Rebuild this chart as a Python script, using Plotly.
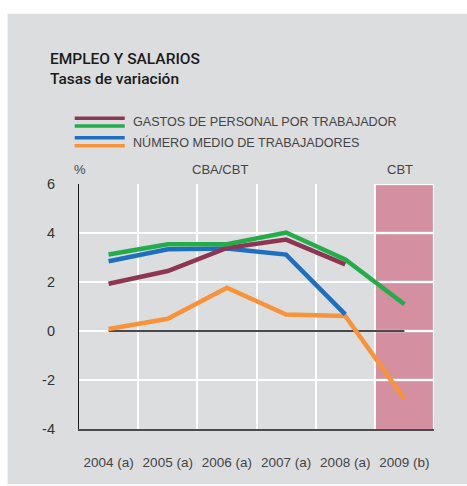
import plotly.graph_objects as go

categories = ["2004 (a)", "2005 (a)", "2006 (a)", "2007 (a)", "2008 (a)", "2009 (b)"]
gastos_cba = [1.93, 2.45, 3.39, 3.73, 2.72, None]
gastos_cbt = [3.12, 3.54, 3.54, 4.02, 2.92, 1.09]
numero_cba = [2.85, 3.34, 3.37, 3.12, 0.68, None]
numero_cbt = [0.08, 0.50, 1.77, 0.67, 0.61, -2.77]
zero_ref = [0, 0, 0, 0, 0, 0]
y_ticks = [-4, -2, 0, 2, 4, 6]
y_tick_labels = ["-4", "-2", "0", "2", "4", "6"]
shaded_category = "2009 (b)"

FONT = "Liberation Sans, Arial, sans-serif"
BG = "#dcdddf"
PINK = "#d48fa1"
GRID = "#ffffff"
C_MAROON = "#8e3552"
C_GREEN = "#22ad4a"
C_BLUE = "#1f6fc0"
C_ORANGE = "#f7943a"

L, R, T, B = 79.3, 434.0, 184.0, 428.7
PW, PH = R - L, B - T

def px_x(px):
    return (px - L) / PW

def px_y(py):
    return 1 + (T - py) / PH

n = len(categories)
xpos = list(range(n))
boundaries = [i - 0.5 for i in range(n + 1)]
ymin, ymax = y_ticks[0], y_ticks[-1]

fig = go.Figure()

# shaded CBT band: one pink cell per grid interval, inset so the white grid shows between cells
idx = categories.index(shaded_category)
gx = 1.2 * ((boundaries[-1] - boundaries[0]) / PW)
gy = 1.2 * ((ymax - ymin) / PH)
cx0, cx1 = idx - 0.5, idx + 0.5
for y_lo, y_hi in zip(y_ticks[:-1], y_ticks[1:]):
    lo = y_lo if y_lo == ymin else y_lo + gy
    hi = y_hi - gy
    fig.add_trace(go.Scatter(x=[cx0 + gx, cx1 - gx, cx1 - gx, cx0 + gx, cx0 + gx],
                             y=[lo, lo, hi, hi, lo], mode="lines", fill="toself",
                             fillcolor=PINK, line=dict(width=0), hoverinfo="skip",
                             showlegend=False))
# white grid lines redrawn over the band
for yv in y_ticks[1:]:
    fig.add_trace(go.Scatter(x=[cx0, cx1], y=[yv, yv], mode="lines",
                             line=dict(color=GRID, width=2), hoverinfo="skip", showlegend=False))
for xv in (cx0, cx1):
    fig.add_trace(go.Scatter(x=[xv, xv], y=[ymin, ymax], mode="lines",
                             line=dict(color=GRID, width=2), hoverinfo="skip", showlegend=False))

fig.add_trace(go.Scatter(x=xpos, y=zero_ref, mode="lines",
                         line=dict(color="#4a4a4a", width=1.8), hoverinfo="skip", showlegend=False))
for name, vals, col in [
    ("Número medio de trabajadores (CBT)", numero_cbt, C_ORANGE),
    ("Número medio de trabajadores (CBA)", numero_cba, C_BLUE),
    ("Gastos de personal por trabajador (CBA)", gastos_cba, C_MAROON),
    ("Gastos de personal por trabajador (CBT)", gastos_cbt, C_GREEN),
]:
    fig.add_trace(go.Scatter(x=xpos, y=vals, mode="lines", name=name,
                             line=dict(color=col, width=4.5), connectgaps=False, showlegend=False))

# white outer border strips (panel is the paper background)
for x0, x1, y0, y1 in [(0, 8, 0, 486), (0, 467, 0, 14), (0, 467, 484, 486)]:
    fig.add_shape(type="rect", xref="paper", yref="paper",
                  x0=px_x(x0), x1=px_x(x1), y0=px_y(y1), y1=px_y(y0),
                  fillcolor="white", line=dict(width=0), layer="above")

# legend samples
for py, col in [(118.3, C_MAROON), (126, C_GREEN), (137.7, C_BLUE), (145.7, C_ORANGE)]:
    fig.add_shape(type="line", xref="paper", yref="paper", x0=px_x(75), x1=px_x(125),
                  y0=px_y(py), y1=px_y(py), line=dict(color=col, width=3.5))

TITLE_FONT = dict(family="Roboto, Liberation Sans, sans-serif", size=15.5, color="#1a1a1a", weight=500)
ann = [
    dict(text="EMPLEO Y SALARIOS", x=px_x(48), y=px_y(59), font=TITLE_FONT, anchor="left"),
    dict(text="Tasas de variación", x=px_x(48), y=px_y(79), font=TITLE_FONT, anchor="left"),
    dict(text="GASTOS DE PERSONAL POR TRABAJADOR", x=px_x(131.5), y=px_y(122.5),
         font=dict(family=FONT, size=12.6, color="#444444"), anchor="left"),
    dict(text="NÚMERO MEDIO DE TRABAJADORES", x=px_x(131.5), y=px_y(142.5),
         font=dict(family=FONT, size=12.6, color="#444444"), anchor="left"),
    dict(text="%", x=px_x(80.5), y=px_y(170), font=dict(family=FONT, size=13, color="#444444"), anchor="center"),
    dict(text="CBA/CBT", x=px_x(220), y=px_y(170), font=dict(family=FONT, size=13, color="#444444"), anchor="center"),
    dict(text="CBT", x=px_x(400.5), y=px_y(170), font=dict(family=FONT, size=13, color="#444444"), anchor="center"),
]
for a in ann:
    fig.add_annotation(text=a["text"], xref="paper", yref="paper", x=a["x"], y=a["y"],
                       xanchor=a["anchor"], yanchor="middle", showarrow=False, font=a["font"])

fig.update_layout(
    width=467, height=486,
    margin=dict(l=L, r=467 - R, t=T, b=486 - B, autoexpand=False),
    paper_bgcolor=BG, plot_bgcolor=BG,
    font=dict(family=FONT, color="#444444"),
    showlegend=False,
)
fig.update_xaxes(range=[boundaries[0], boundaries[-1]], tickvals=xpos, ticktext=categories,
                 automargin=False, showgrid=False,
                 minor=dict(tickvals=boundaries, showgrid=True, gridcolor=GRID, gridwidth=2, ticks=""),
                 ticks="", ticklabelstandoff=20,
                 tickfont=dict(family=FONT, size=13.5, color="#444444"),
                 showline=True, linecolor="#4a4a4a", linewidth=1.5, zeroline=False)
fig.update_yaxes(range=[ymin, ymax], tickvals=y_ticks, ticktext=y_tick_labels, automargin=False,
                 showgrid=True, gridcolor=GRID, gridwidth=2,
                 zeroline=False, ticks="", ticklabelstandoff=20,
                 tickfont=dict(family=FONT, size=14.5, color="#333333"),
                 showline=True, linecolor="#1a1a1a", linewidth=1.2)

fig.write_html("out.html", config={"displayModeBar": False},
               post_script="document.body.style.margin='0px';document.body.style.overflow='hidden';")
